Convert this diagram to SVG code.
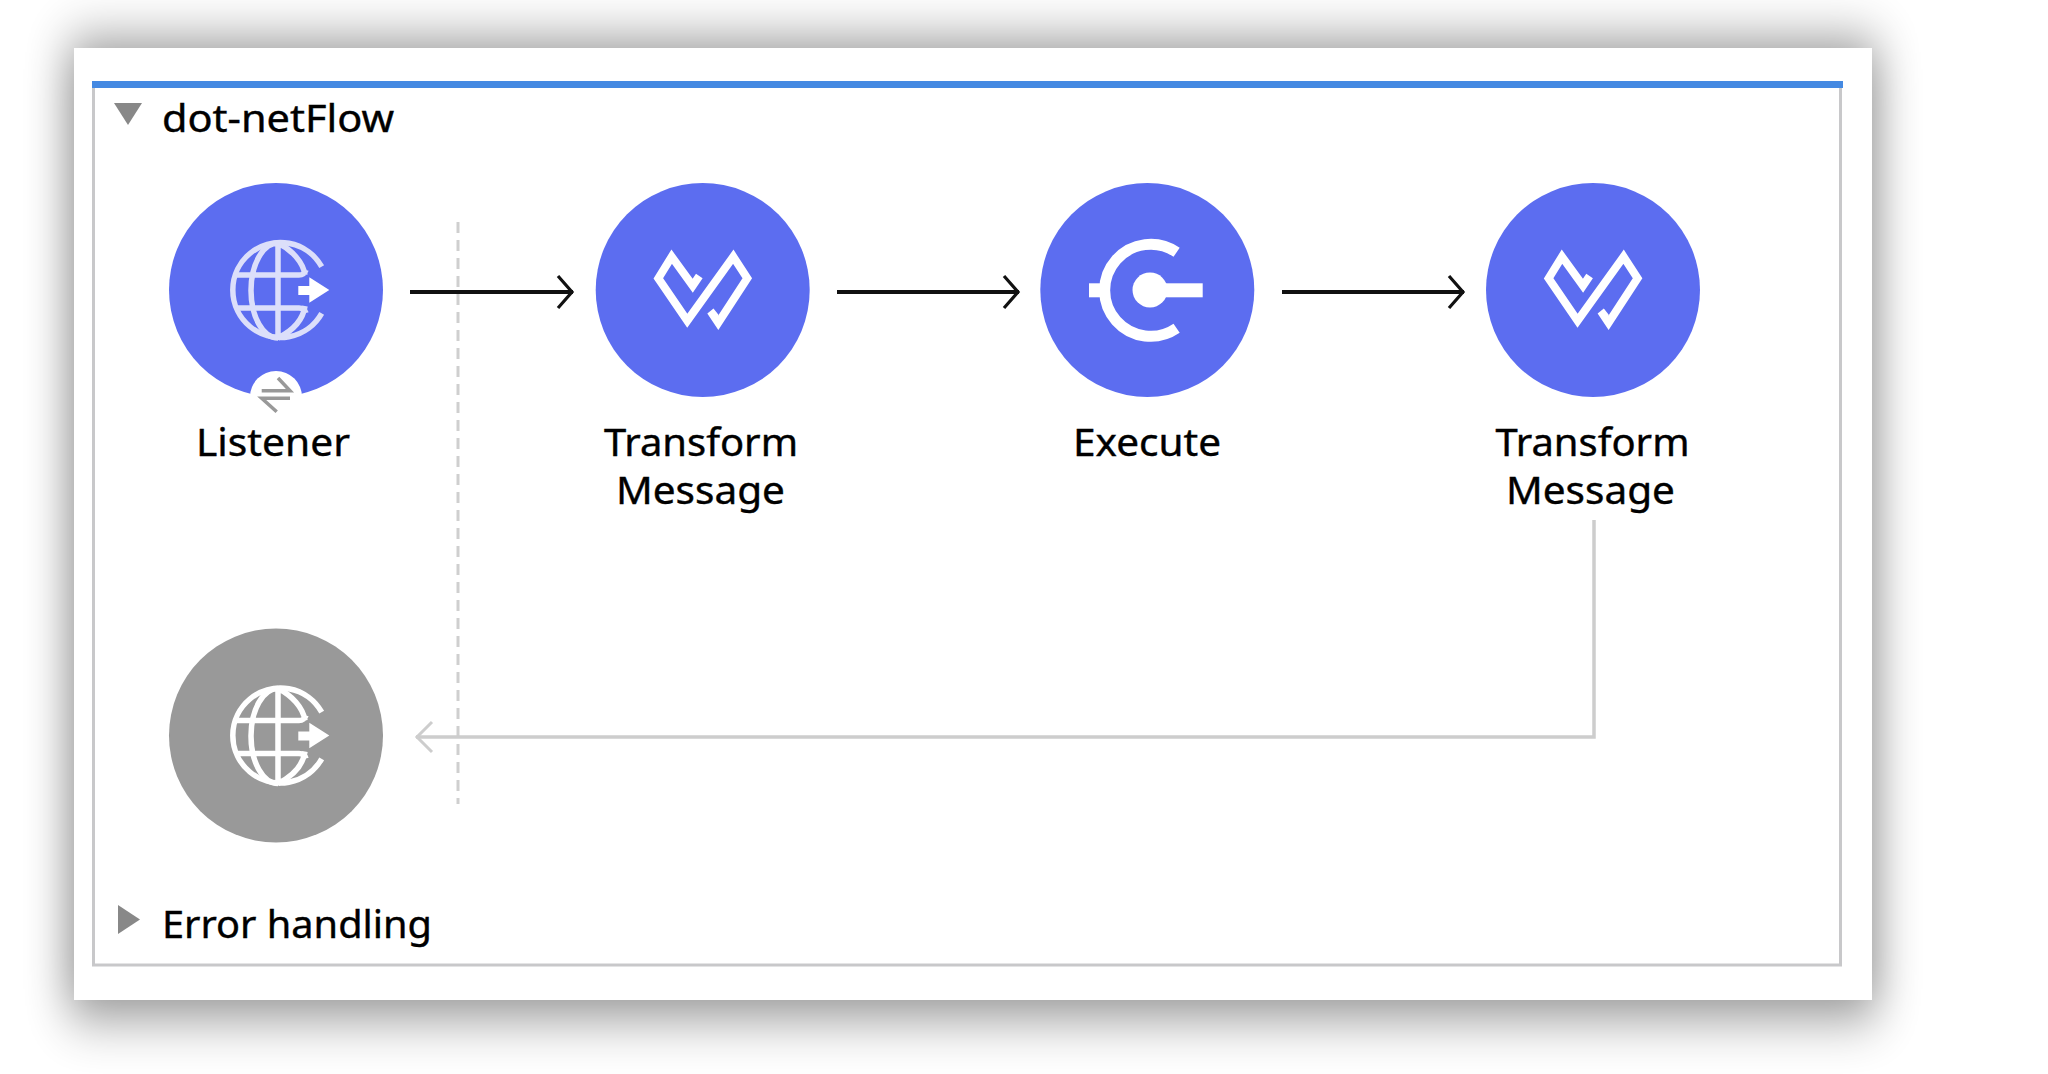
<svg xmlns="http://www.w3.org/2000/svg" xmlns:xlink="http://www.w3.org/1999/xlink" width="2048" height="1074" viewBox="0 0 2048 1074">
<style>
.lbl{font-family:"Noto Sans","Liberation Sans",sans-serif;font-size:38px;fill:#000;stroke:#000;stroke-width:.4;text-anchor:middle}
.hdr{font-family:"Noto Sans","Liberation Sans",sans-serif;font-size:38px;fill:#000;stroke:#000;stroke-width:.4}
.blue{fill:#5c6df0}
.grey{fill:#999}
.flow{fill:none;stroke:#111;stroke-width:4}
.ret{fill:none;stroke:#cdcdcd;stroke-width:3.5}
.w{fill:none;stroke:#fff;stroke-width:8;stroke-miterlimit:6}
.g{fill:none;stroke-width:5.5}
</style>
<defs>
<filter id="sh" x="-10%" y="-15%" width="120%" height="130%"><feGaussianBlur stdDeviation="22 28"/></filter>
<marker id="ah" markerUnits="userSpaceOnUse" markerWidth="24" markerHeight="40" refX="18" refY="20" orient="auto"><path d="M3 4 L17 20 L3 36" fill="none" stroke="#111" stroke-width="3.2"/></marker>
<marker id="ahg" markerUnits="userSpaceOnUse" markerWidth="24" markerHeight="40" refX="18" refY="20" orient="auto"><path d="M2 5 L17 20 L2 35" fill="none" stroke="#cdcdcd" stroke-width="3"/></marker>
<g id="globe">
<path class="g" d="M321.7 266.7A47.5 47.5 0 1 0 321.7 313.3"/>
<path class="g" d="M278 243V338M278 243A27 47.5 0 0 0 278 338M278 243C292 250 303 262 305 275M278 338C292 331 303 320 305 306M236 275H299C303 275 305 273 306 270M236 308H299C303 308 305 310 306 313"/>
<path style="stroke:none" fill="inherit" d="M298.3 286H309.3V277.3L329.3 290L309.3 302.7V295H298.3Z"/>
</g>
<polyline id="wave" class="w" points="-3.4,-14 -10,-4.3 -31,-33.3 -44.4,-11.7 -15.4,30.7 30.6,-33.3 44.6,-11.7 15.6,32.7 10,24.3 13.3,21.7"/>
</defs>
<rect id="panel-shadow" x="69" y="43" width="1808" height="972" fill="#000" opacity="0.45" filter="url(#sh)"/>
<rect id="panel" x="74" y="48" width="1798" height="952" fill="#fff"/>
<g id="frame">
<rect x="93.5" y="84" width="1747" height="881" fill="#fff" stroke="#c8c8ca" stroke-width="3"/>
<rect x="92" y="81" width="1751" height="7" fill="#4489e2"/>
<path d="M114 103H142L128 125Z" fill="#888"/>
<text class="hdr" x="162" y="132" textLength="232" lengthAdjust="spacingAndGlyphs">dot-netFlow</text>
<path d="M118 905L140 919.5L118 934Z" fill="#888"/>
<text class="hdr" x="162" y="938" textLength="270" lengthAdjust="spacingAndGlyphs">Error handling</text>
</g>
<g id="connectors">
<line x1="458" y1="222" x2="458" y2="804" stroke="#cfcfcf" stroke-width="3" stroke-dasharray="11 7"/>
<line class="flow" x1="410" y1="292" x2="573" y2="292" marker-end="url(#ah)"/>
<line class="flow" x1="837" y1="292" x2="1019" y2="292" marker-end="url(#ah)"/>
<line class="flow" x1="1282" y1="292" x2="1464" y2="292" marker-end="url(#ah)"/>
<path class="ret" d="M1594 520V737H416" marker-end="url(#ahg)"/>
</g>
<g id="listener">
<circle class="blue" cx="276" cy="290" r="107"/>
<use xlink:href="#globe" href="#globe" stroke="#dcdffa" fill="#fff"/>
<circle cx="276" cy="397" r="26" fill="#fff"/>
<path d="M261.7 390.7H290L278 378M290 398.3H261.7L276.7 411.7" fill="none" stroke="#999" stroke-width="3.5"/>
<text class="lbl" x="273" y="456" textLength="154" lengthAdjust="spacingAndGlyphs">Listener</text>
</g>
<g id="transform-1">
<circle class="blue" cx="702.7" cy="290" r="107"/>
<use xlink:href="#wave" href="#wave" x="702.7" y="290"/>
<text class="lbl" x="701" y="456" textLength="194" lengthAdjust="spacingAndGlyphs">Transform</text>
<text class="lbl" x="700.5" y="504" textLength="169" lengthAdjust="spacingAndGlyphs">Message</text>
</g>
<g id="execute">
<circle class="blue" cx="1147.3" cy="290" r="107"/>
<path d="M1176.6 252.3A46 46 0 1 0 1176.6 328.3" fill="none" stroke="#fff" stroke-width="11"/>
<circle cx="1150" cy="290" r="17.5" fill="#fff"/>
<rect x="1150" y="283.3" width="52.7" height="14" fill="#fff"/>
<rect x="1089" y="283.3" width="14" height="14" fill="#fff"/>
<text class="lbl" x="1147" y="456" textLength="148" lengthAdjust="spacingAndGlyphs">Execute</text>
</g>
<g id="transform-2">
<circle class="blue" cx="1593" cy="290" r="107"/>
<use xlink:href="#wave" href="#wave" x="1593" y="290"/>
<text class="lbl" x="1592.5" y="456" textLength="194" lengthAdjust="spacingAndGlyphs">Transform</text>
<text class="lbl" x="1590.5" y="504" textLength="169" lengthAdjust="spacingAndGlyphs">Message</text>
</g>
<g id="response">
<circle class="grey" cx="276" cy="735.5" r="107"/>
<use xlink:href="#globe" href="#globe" y="445.5" stroke="#fff" fill="#fff"/>
</g>
</svg>
